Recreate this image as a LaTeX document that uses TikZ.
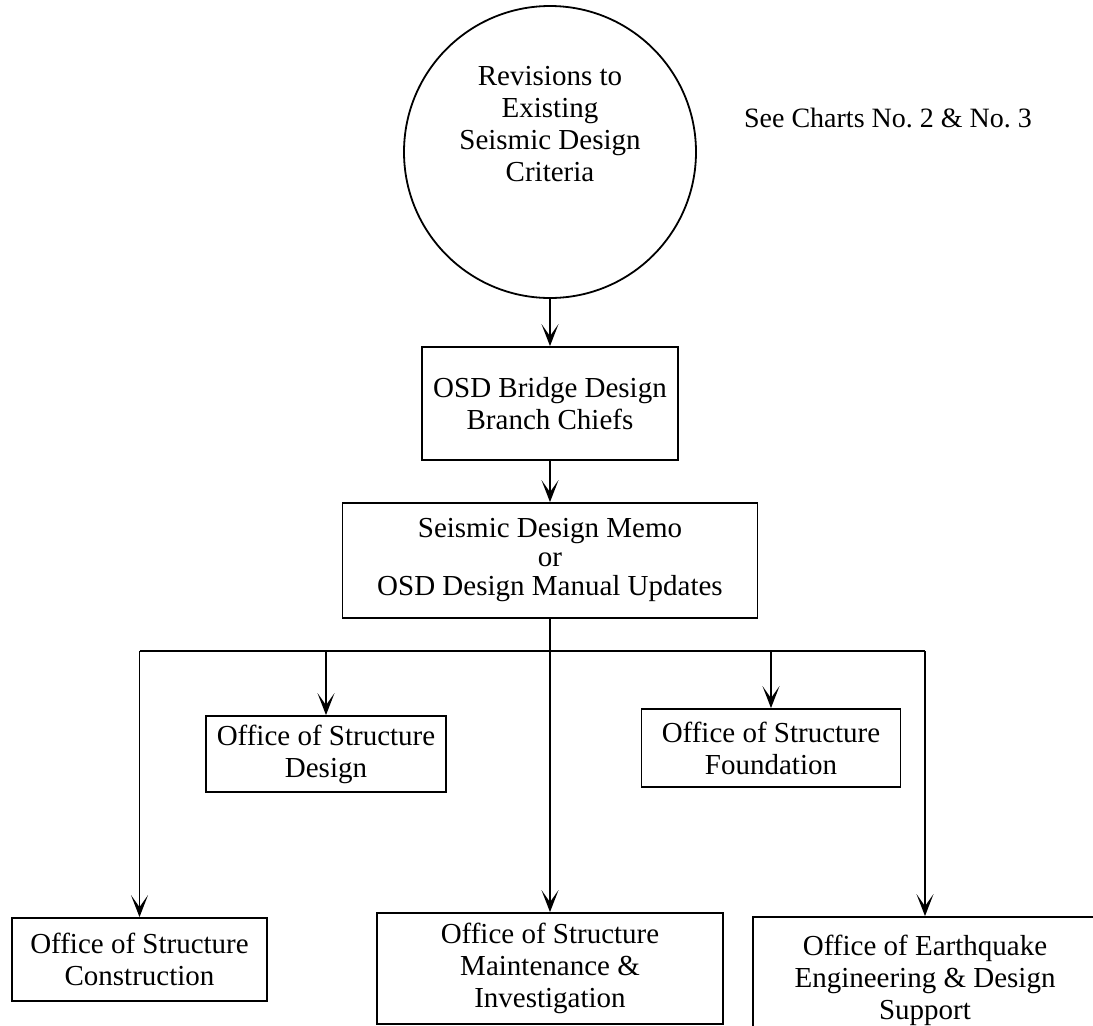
\documentclass[tikz,border=0pt]{standalone}
\usepackage{fontspec}
\setmainfont{Liberation Serif}
\usetikzlibrary{arrows.meta}
\tikzset{
  box/.style={draw, line width=1.8pt, align=center, inner sep=0pt, font=\fontsize{29}{32}\selectfont},
  plain/.style={align=center, inner sep=0pt, font=\fontsize{29}{32}\selectfont},
  conn/.style={line width=1.8pt},
  arr/.style={conn, -{Stealth[length=22pt, width=17pt, inset=12pt]}}
}
\begin{document}
\begin{tikzpicture}[x=1pt,y=-1pt]
\useasboundingbox (0,0) rectangle (1093,1026);
\clip (0,0) rectangle (1093,1026);
\node[draw, circle, line width=1.8pt, minimum size=292pt, inner sep=0pt] (crit) at (550,152) {};
\node[plain] (crittext) at (550,124) {Revisions to\\Existing\\Seismic Design\\Criteria};
\node[plain, font=\fontsize{28}{32}\selectfont] (see) at (888,118) {See Charts No.\ 2 \& No.\ 3};
\node[box, minimum width=256pt, minimum height=113pt] (bridge) at (550,403.5) {OSD Bridge Design\\Branch Chiefs};
\node[box, minimum width=415pt, minimum height=115pt, font=\fontsize{29}{29}\selectfont] (memo) at (550,560.5) {Seismic Design Memo\\or\\OSD Design Manual Updates};
\node[box, minimum width=240pt, minimum height=76pt] (design) at (326,754) {Office of Structure\\Design};
\node[box, minimum width=259pt, minimum height=78pt] (found) at (771,748) {Office of Structure\\Foundation};
\node[box, minimum width=255pt, minimum height=83pt] (constr) at (139.5,959.5) {Office of Structure\\Construction};
\node[box, minimum width=346pt, minimum height=111pt] (maint) at (550,968.5) {Office of Structure\\Maintenance \&\\Investigation};
\node[box, minimum width=344pt, minimum height=120pt, text depth=0pt] (earth) at (925,977) {Office of Earthquake\\Engineering \& Design\\Support};
\coordinate (bus) at (550,651);
\draw[arr] (crit.south) -- (bridge.north);
\draw[arr] (bridge.south) -- (memo.north);
\draw[arr] (memo.south) -- (maint.north);
\draw[conn] (bus -| constr.north) -- (bus -| earth.north);
\draw[arr] (bus -| constr.north) -- (constr.north);
\draw[arr] (bus -| design.north) -- (design.north);
\draw[arr] (bus -| found.north) -- (found.north);
\draw[arr] (bus -| earth.north) -- (earth.north);
\end{tikzpicture}
\end{document}
